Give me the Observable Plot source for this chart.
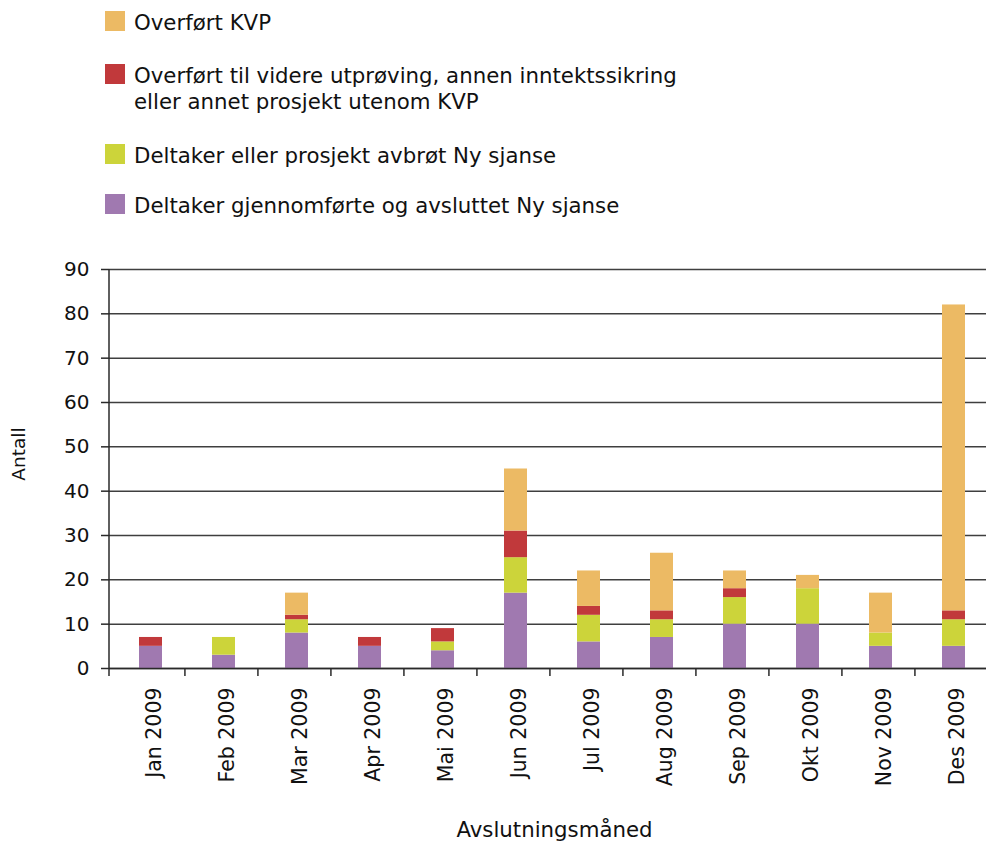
<!DOCTYPE html>
<html><head><meta charset="utf-8">
<script src="https://cdn.jsdelivr.net/npm/d3@7"></script>
<script src="https://cdn.jsdelivr.net/npm/@observablehq/plot@0.6"></script>
<style>
body{margin:0;background:#fff;font-family:"DejaVu Sans",Verdana,sans-serif;overflow:hidden}
#legend{position:relative;height:240px;width:986px;}
.item{position:absolute;left:134px;font-size:21.3px;color:#111;line-height:26px;white-space:nowrap}
.sw{position:absolute;left:-29px;width:20px;height:20px}
#chart svg{display:block;overflow:visible}
</style></head><body>
<div id="legend"></div>
<div id="chart"></div>
<script>
const months = ["Jan 2009","Feb 2009","Mar 2009","Apr 2009","Mai 2009","Jun 2009","Jul 2009","Aug 2009","Sep 2009","Okt 2009","Nov 2009","Des 2009"];
const seriesNames = [
  "Deltaker gjennomførte og avsluttet Ny sjanse",
  "Deltaker eller prosjekt avbrøt Ny sjanse",
  "Overført til videre utprøving, annen inntektssikring eller annet prosjekt utenom KVP",
  "Overført KVP"
];
const legendLines = [
  ["Overført KVP"],
  ["Overført til videre utprøving, annen inntektssikring", "eller annet prosjekt utenom KVP"],
  ["Deltaker eller prosjekt avbrøt Ny sjanse"],
  ["Deltaker gjennomførte og avsluttet Ny sjanse"]
];
const colors = ["#A079B0", "#CCD43A", "#C1393B", "#ECBA64"];
const completed   = [5, 3, 8, 5, 4, 17, 6, 7, 10, 10, 5, 5];
const aborted     = [0, 4, 3, 0, 2, 8, 6, 4, 6, 8, 3, 6];
const transferred = [2, 0, 1, 2, 3, 6, 2, 2, 2, 0, 0, 2];
const kvp         = [0, 0, 5, 0, 0, 14, 8, 13, 4, 3, 9, 69];
const yTicks = [0, 10, 20, 30, 40, 50, 60, 70, 80, 90];

const seriesValues = [completed, aborted, transferred, kvp];
const data = [];
seriesNames.forEach((s, si) => months.forEach((m, i) => data.push({month: m, series: s, value: seriesValues[si][i]})));

// Legend (top to bottom: reverse of stack order)
const legendTops = [9.6, 62.6, 142.6, 192.6];
const legend = document.getElementById("legend");
[3, 2, 1, 0].forEach((si, k) => {
  const div = document.createElement("div");
  div.className = "item";
  div.style.top = legendTops[k] + "px";
  div.innerHTML = legendLines[k].join("<br>");
  const sw = document.createElement("div");
  sw.className = "sw";
  sw.style.top = "1.4px";
  sw.style.background = colors[si];
  div.appendChild(sw);
  legend.appendChild(div);
});

const padInner = 0.687;
const chart = Plot.plot({
  width: 986,
  height: 603,
  marginTop: 29,
  marginBottom: 175,
  marginLeft: 109,
  marginRight: -5,
  style: {fontFamily: "DejaVu Sans, Verdana, sans-serif", fontSize: "20px", color: "#111", background: "#fff", overflow: "visible"},
  x: {domain: months, paddingInner: padInner, paddingOuter: padInner / 2, label: null},
  y: {domain: [0, 90], label: null},
  color: {domain: seriesNames, range: colors},
  marks: [
    Plot.gridY(yTicks, {stroke: "#2a2a2a", strokeOpacity: 0.9, strokeWidth: 1.5}),
    Plot.barY(data, {x: "month", y: "value", fill: "series", order: seriesNames, dx: 2}),
    Plot.ruleY([0], {stroke: "#2a2a2a", strokeWidth: 1.5}),
    Plot.axisY(yTicks, {tickSize: 8, tickPadding: 12, stroke: "#2a2a2a", strokeWidth: 1.5, label: null}),
    Plot.axisX({tickSize: 0, tickPadding: 19, tickRotate: -90, dx: 5, label: null, fontSize: 20.5}),
    // vertical y-axis line and between-category ticks
    (index, scales, values, dims) => {
      const g = d3.create("svg:g").attr("stroke", "#2a2a2a").attr("stroke-width", 1.5);
      const x = scales.x, y = scales.y;
      const step = x.step();
      g.append("line").attr("x1", dims.marginLeft).attr("x2", dims.marginLeft)
        .attr("y1", y(90)).attr("y2", y(0) + 8);
      months.forEach((m, i) => {
        if (i === 0) return;
        const bx = x(m) - step * padInner / 2;
        g.append("line").attr("x1", bx).attr("x2", bx).attr("y1", y(0)).attr("y2", y(0) + 8);
      });
      return g.node();
    },
    Plot.text(["Avslutningsmåned"], {frameAnchor: "bottom", lineAnchor: "middle", dy: 162, dx: 4, text: d => d, fontSize: 21.3}),
    Plot.text(["Antall"], {frameAnchor: "left", textAnchor: "middle", lineAnchor: "middle", rotate: -90, dx: -90, dy: -15, text: d => d, fontSize: 18.5})
  ]
});
document.getElementById("chart").appendChild(chart);
</script>
</body></html>
